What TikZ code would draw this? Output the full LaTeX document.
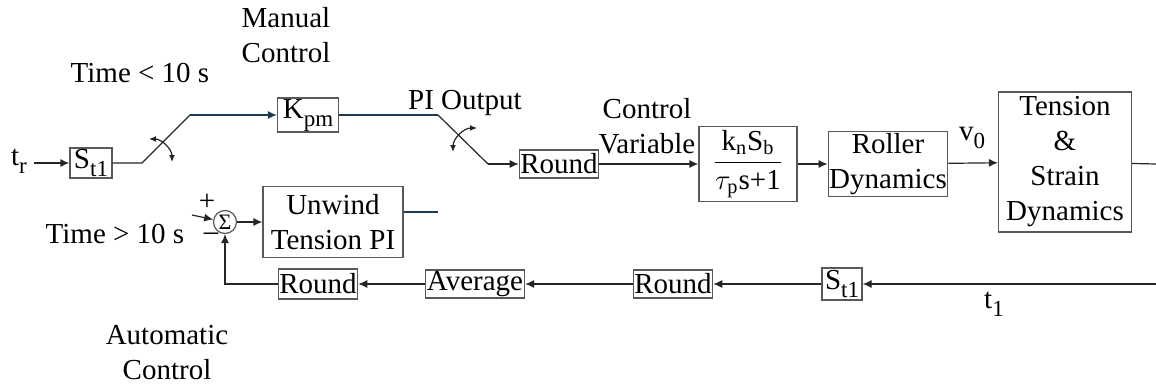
\documentclass[tikz,border=0pt]{standalone}
\usepackage{amsmath}
\usepackage{fontspec}
\setmainfont{Liberation Serif}
\usetikzlibrary{arrows.meta}
\definecolor{pidark}{RGB}{30,60,80}
\newcommand{\lowsub}[1]{\raisebox{-4pt}{\fontsize{11.5}{12}\selectfont #1}}

\begin{document}
\begin{tikzpicture}[x=0.5pt,y=-0.5pt,font=\fontsize{14.5}{17.5}\selectfont]
		\useasboundingbox (0,0) rectangle (1156,386);
		\begin{scope}[every node/.style={rectangle,draw=black!65,line width=0.6pt,align=center,inner sep=0.5pt}]
			\node[minimum width=21pt,minimum height=15pt] (St1) at (91,163) {S\lowsub{t1}};
			\node[minimum width=30.5pt,minimum height=17pt] (Kpm) at (308,115) {K\lowsub{pm}};
			\node[minimum width=38.5pt,minimum height=14pt] (RdA) at (559,164) {Round};
			\node[minimum width=49pt,minimum height=37.5pt] (Gain) at (748,164) {$\dfrac{\text{k\textsubscript{n}S\textsubscript{b}}}{\tau_{\text{p}}\text{s+1}}$};
			\node[minimum width=59.5pt,minimum height=32.5pt] (Roller) at (888,164) {Roller\\Dynamics};
			\node[minimum width=66.5pt,minimum height=70pt] (TS) at (1065,162) {Tension\\\&\\Strain\\Dynamics};
			\node[minimum width=70pt,minimum height=35.5pt] (PI) at (333,222) {Unwind\\Tension PI};
			\node[minimum width=20pt,minimum height=16pt] (St1b) at (842,284) {S\lowsub{t1}};
			\node[minimum width=38.5pt,minimum height=14pt] (RdB) at (673,284) {Round};
			\node[minimum width=49.5pt,minimum height=14pt] (Avg) at (475,284) {Average};
			\node[minimum width=39.5pt,minimum height=15pt] (RdC) at (318,284) {Round};
			\node[circle,minimum size=11.5pt,inner sep=0pt,font=\fontsize{11}{12}\selectfont] (Sum) at (225,222) {Σ};
		\end{scope}
		
		% labels
		\node[anchor=base] (tr) at (19,165) {t\lowsub{r}};
		\node[anchor=base] (tlbl) at (994,308) {t\lowsub{1}};
		\node[anchor=base] (vlbl) at (972,140) {v\lowsub{0}};
		\node[anchor=base] (TltLbl) at (140,82) {Time < 10 s};
		\node[anchor=base] (TgtLbl) at (115,243) {Time > 10 s};
		\node[anchor=base] (PILbl) at (465,109) {PI Output};
		\node[align=center] (CVLbl) at (647,126) {Control\\Variable};
		\node[align=center] (ManLbl) at (286,35) {Manual\\Control};
		\node[align=center] (AutoLbl) at (167,353) {Automatic\\Control};
		\node (plus) at (207,202) {+};
		\node (minus) at (211,237) {–};
		
		\coordinate (sw1a) at (142,163);
		\coordinate (sw1b) at (190,115);
		\coordinate (sw2a) at (438,115);
		\coordinate (sw2b) at (488,164);
		\coordinate (piend) at (438,212);
		\coordinate (tsout) at (1156,164);
		\coordinate (t1in) at (1156,284);
		\coordinate (sumin) at (192,215);
		
		\tikzstyle{wire} = [line width=0.6pt,color=black!85]
		\tikzstyle{arrow} = [line width=0.6pt,->,>={Latex[length=4.5pt,width=4pt]},color=black!85]
		\draw [arrow] (tr.east |- St1) -- (St1);
		\draw [wire] (St1) -- (sw1a) -- (sw1b);
		\draw [arrow,draw=pidark] (sw1b) -- (Kpm);
		\draw [wire,color=pidark] (Kpm) -- (sw2a);
		\draw [wire] (sw2a) -- (sw2b);
		\draw [arrow] (sw2b) -- (RdA);
		\draw [arrow] (RdA) -- (Gain);
		\draw [arrow] (Gain) -- (Roller);
		\draw [arrow] (Roller) -- (TS);
		\draw [wire] (TS) -- (tsout);
		\draw [arrow] (t1in) -- (St1b);
		\draw [arrow] (St1b) -- (RdB);
		\draw [arrow] (RdB) -- (Avg);
		\draw [arrow] (Avg) -- (RdC);
		\draw [arrow] (RdC) -| (Sum);
		\draw [arrow] (sumin) -- (Sum);
		\draw [arrow] (Sum) -- (PI);
		\draw [wire,color=pidark] (PI.east |- piend) -- (piend);
		
		% switch arms
		\tikzstyle{arrow} = [line width=0.6pt,<->,>={Latex[length=3.5pt,width=3pt]},color=black!85]
		\draw [arrow] (149,139) arc[start angle=90,end angle=0,radius=11.5pt];
		\draw [arrow] (453,152) arc[start angle=180,end angle=90,radius=12pt];
		
	\end{tikzpicture}
\end{document}
